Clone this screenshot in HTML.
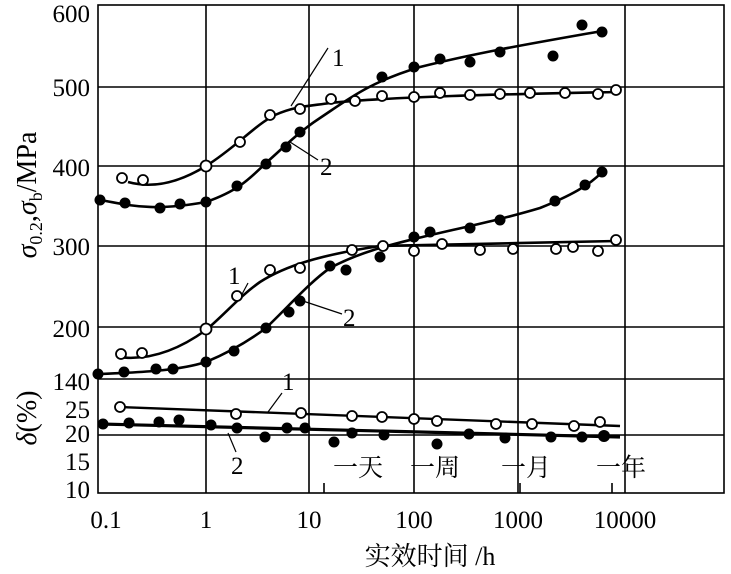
<!DOCTYPE html>
<html><head><meta charset="utf-8"><style>
html,body{margin:0;padding:0;background:#fff;}
svg{display:block;}
text{font-family:"Liberation Serif","Noto Serif CJK SC",serif;fill:#000;}
</style></head><body>
<svg width="731" height="574" viewBox="0 0 731 574" xmlns="http://www.w3.org/2000/svg">
<g stroke="#000" stroke-width="1.6" fill="none">
<rect x="98" y="5" width="626" height="488"/>
<line x1="206" y1="5" x2="206" y2="493"/>
<line x1="309" y1="5" x2="309" y2="493"/>
<line x1="414" y1="5" x2="414" y2="493"/>
<line x1="518" y1="5" x2="518" y2="493"/>
<line x1="625" y1="5" x2="625" y2="493"/>
<line x1="98" y1="87" x2="724" y2="87"/>
<line x1="98" y1="166" x2="724" y2="166"/>
<line x1="98" y1="246" x2="724" y2="246"/>
<line x1="98" y1="327" x2="724" y2="327"/>
<line x1="98" y1="379" x2="724" y2="379"/>
<line x1="98" y1="435" x2="724" y2="435"/>
<line x1="324" y1="483" x2="324" y2="493"/>
<line x1="520" y1="483" x2="520" y2="493"/>
<line x1="612" y1="483" x2="612" y2="493"/>
</g>
<g stroke="#000" stroke-width="2.6" fill="none">
<path d="M128,182 C150,188 175,185 206,166 C235,148 255,125 275,115 C295,106 310,106 330,103 C400,96 520,94 616,92"/>
<path d="M100,200 C130,205 150,212 206,202 C240,190 250,178 266,163 C285,146 300,131 320,118 C350,98 370,82 420,67 C480,52 540,42 602,31"/>
<path d="M118,357 C140,360 170,356 206,330 C225,314 240,296 260,282 C285,266 320,255 380,246 C450,244 540,243 616,241"/>
<path d="M100,374 C150,372 180,370 206,362 C230,352 250,340 266,328 C290,305 310,282 330,268 C360,252 390,245 414,239 C460,228 500,220 540,208 C570,196 590,185 602,172"/>
<path d="M120,407 L620,426" stroke-width="2.4"/>
<path d="M100,424 L620,437" stroke-width="3.2"/>
</g>
<g stroke="#000" stroke-width="1.2">
<line x1="291" y1="106" x2="328" y2="48"/>
<line x1="290" y1="142" x2="318" y2="160"/>
<line x1="240" y1="298" x2="248" y2="283"/>
<line x1="300" y1="300" x2="342" y2="314"/>
<line x1="268" y1="412" x2="282" y2="393"/>
<line x1="228" y1="433" x2="236" y2="452"/>
</g>
<g fill="#fff" stroke="#000" stroke-width="1.8">
<circle cx="122" cy="178" r="5"/><circle cx="143" cy="180" r="5"/><circle cx="206" cy="166" r="5.5"/><circle cx="240" cy="142" r="5"/><circle cx="270" cy="115" r="5"/><circle cx="300" cy="109" r="5"/><circle cx="331" cy="99" r="5"/><circle cx="355" cy="101" r="5"/><circle cx="382" cy="96" r="5"/><circle cx="414" cy="97" r="5"/><circle cx="440" cy="93" r="5"/><circle cx="470" cy="95" r="5"/><circle cx="500" cy="94" r="5"/><circle cx="530" cy="93" r="5"/><circle cx="565" cy="93" r="5"/><circle cx="598" cy="94" r="5"/><circle cx="616" cy="90" r="5"/>
<circle cx="121" cy="354" r="5"/><circle cx="142" cy="353" r="5"/><circle cx="206" cy="329" r="5.5"/><circle cx="237" cy="296" r="5"/><circle cx="270" cy="270" r="5"/><circle cx="300" cy="268" r="5"/><circle cx="352" cy="250" r="5"/><circle cx="383" cy="246" r="5"/><circle cx="414" cy="251" r="5"/><circle cx="442" cy="244" r="5"/><circle cx="480" cy="250" r="5"/><circle cx="513" cy="249" r="5"/><circle cx="556" cy="249" r="5"/><circle cx="573" cy="247" r="5"/><circle cx="598" cy="251" r="5"/><circle cx="616" cy="240" r="5"/>
<circle cx="120" cy="407" r="5"/><circle cx="236" cy="414" r="5"/><circle cx="301" cy="413" r="5"/><circle cx="352" cy="416" r="5"/><circle cx="382" cy="417" r="5"/><circle cx="414" cy="419" r="5"/><circle cx="437" cy="421" r="5"/><circle cx="496" cy="424" r="5"/><circle cx="532" cy="424" r="5"/><circle cx="574" cy="426" r="5"/><circle cx="600" cy="422" r="5"/>
</g>
<g fill="#000">
<circle cx="100" cy="200" r="5.5"/><circle cx="125" cy="203" r="5.5"/><circle cx="160" cy="208" r="5.5"/><circle cx="180" cy="204" r="5.5"/><circle cx="206" cy="202" r="5.5"/><circle cx="237" cy="186" r="5.5"/><circle cx="266" cy="164" r="5.5"/><circle cx="286" cy="147" r="5.5"/><circle cx="300" cy="132" r="5.5"/><circle cx="382" cy="77" r="5.5"/><circle cx="414" cy="67" r="5.5"/><circle cx="440" cy="59" r="5.5"/><circle cx="470" cy="62" r="5.5"/><circle cx="500" cy="52" r="5.5"/><circle cx="553" cy="56" r="5.5"/><circle cx="582" cy="25" r="5.5"/><circle cx="602" cy="32" r="5.5"/>
<circle cx="98" cy="374" r="5.5"/><circle cx="124" cy="372" r="5.5"/><circle cx="156" cy="369" r="5.5"/><circle cx="173" cy="369" r="5.5"/><circle cx="206" cy="362" r="5.5"/><circle cx="234" cy="351" r="5.5"/><circle cx="266" cy="328" r="5.5"/><circle cx="289" cy="312" r="5.5"/><circle cx="300" cy="301" r="5.5"/><circle cx="330" cy="266" r="5.5"/><circle cx="346" cy="270" r="5.5"/><circle cx="380" cy="257" r="5.5"/><circle cx="414" cy="237" r="5.5"/><circle cx="430" cy="232" r="5.5"/><circle cx="470" cy="228" r="5.5"/><circle cx="500" cy="220" r="5.5"/><circle cx="555" cy="201" r="5.5"/><circle cx="585" cy="185" r="5.5"/><circle cx="602" cy="172" r="5.5"/>
<circle cx="103" cy="424" r="5.5"/><circle cx="129" cy="423" r="5.5"/><circle cx="159" cy="422" r="5.5"/><circle cx="179" cy="420" r="5.5"/><circle cx="211" cy="425" r="5.5"/><circle cx="237" cy="428" r="5.5"/><circle cx="265" cy="437" r="5.5"/><circle cx="287" cy="428" r="5.5"/><circle cx="305" cy="428" r="5.5"/><circle cx="334" cy="442" r="5.5"/><circle cx="352" cy="433" r="5.5"/><circle cx="384" cy="435" r="5.5"/><circle cx="437" cy="444" r="5.5"/><circle cx="469" cy="434" r="5.5"/><circle cx="505" cy="438" r="5.5"/><circle cx="551" cy="437" r="5.5"/><circle cx="582" cy="437" r="5.5"/><circle cx="604" cy="436" r="6"/>
</g>
<g font-size="25" text-anchor="end">
<text x="90" y="22">600</text><text x="90" y="96">500</text><text x="90" y="176">400</text><text x="90" y="255">300</text><text x="90" y="337">200</text><text x="90" y="390">140</text>
<text x="90" y="418">25</text><text x="90" y="442">20</text><text x="90" y="470">15</text><text x="90" y="498">10</text>
</g>
<g font-size="25" text-anchor="middle">
<text x="106" y="528">0.1</text><text x="206" y="528">1</text><text x="309" y="528">10</text><text x="414" y="528">100</text><text x="518" y="528">1000</text><text x="625" y="528">10000</text>
<text x="430" y="565" font-size="26">实效时间 /h</text>
</g>
<g font-size="25">
<text x="332" y="66">1</text><text x="320" y="175">2</text><text x="228" y="284">1</text><text x="343" y="326">2</text><text x="282" y="390">1</text><text x="231" y="474">2</text>
<text x="333" y="476">一天</text><text x="410" y="476">一周</text><text x="501" y="476">一月</text><text x="596" y="476">一年</text>
</g>
<text transform="translate(36,195) rotate(-90)" font-size="28" text-anchor="middle"><tspan font-style="italic">σ</tspan><tspan font-size="18" dy="6">0.2</tspan><tspan dy="-6">,</tspan><tspan font-style="italic">σ</tspan><tspan font-size="18" dy="6">b</tspan><tspan dy="-6">/MPa</tspan></text>
<text transform="translate(36,418) rotate(-90)" font-size="28" text-anchor="middle"><tspan font-style="italic">δ</tspan>(%)</text>
</svg>
</body></html>
